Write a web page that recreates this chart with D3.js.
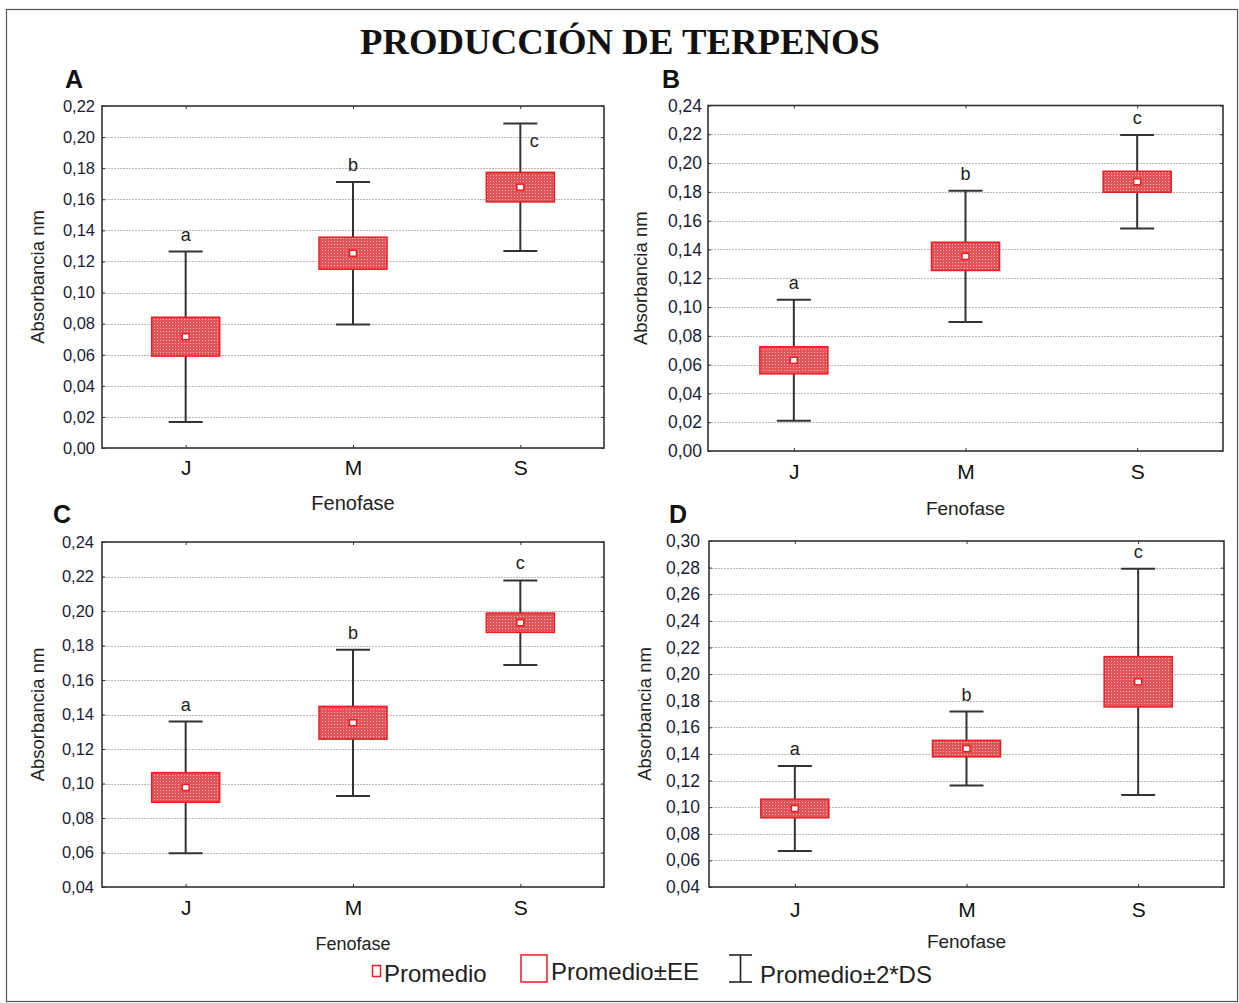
<!DOCTYPE html>
<html>
<head>
<meta charset="utf-8">
<script src="https://cdn.jsdelivr.net/npm/d3@7"></script>
<style>
  body { margin: 0; background: #fff; }
  svg { display: block; }
</style>
</head>
<body>
<svg id="chart" width="1239" height="1003"></svg>
<script>
const W = 1239, H = 1003

const fases = ["J", "M", "S"]
const letras = ["a", "b", "c"]

// panel A
const mediaA = [0.0716, 0.1253, 0.1678]
const eeA = [0.0125, 0.0103, 0.0095]
const ds2A = [0.0548, 0.0458, 0.0410]
const ticksA = [0, 0.22]

// panel B
const mediaB = [0.0630, 0.1352, 0.1870]
const eeB = [0.0094, 0.0098, 0.0073]
const ds2B = [0.0420, 0.0456, 0.0325]
const ticksB = [0, 0.24]

// panel C
const mediaC = [0.0977, 0.1352, 0.1932]
const eeC = [0.0086, 0.0095, 0.0056]
const ds2C = [0.0382, 0.0424, 0.0245]
const ticksC = [0.04, 0.24]

// panel D
const mediaD = [0.0990, 0.1440, 0.1942]
const eeD = [0.0070, 0.0062, 0.0189]
const ds2D = [0.0320, 0.0278, 0.0850]
const ticksD = [0.04, 0.30]

const ROJO = "#ec1c24"
const coma = v => d3.format(".2f")(v).replace(".", ",")

const svg = d3.select("#chart")

// light dotted texture laid over the solid box colour
const defs = svg.append("defs")
const pat = defs.append("pattern")
  .attr("id", "trama")
  .attr("width", 3).attr("height", 3)
  .attr("patternUnits", "userSpaceOnUse")
pat.append("rect").attr("width", 3).attr("height", 3).attr("fill", "#e25458")
pat.append("rect").attr("x", 1).attr("y", 1).attr("width", 1).attr("height", 1).attr("fill", "#f6b8b8")

// outer frame
svg.append("rect")
  .attr("x", 6.5).attr("y", 9.5)
  .attr("width", W - 8).attr("height", H - 11)
  .attr("fill", "none").attr("stroke", "#555").attr("stroke-width", 1.2)

svg.append("text")
  .attr("x", 620).attr("y", 54)
  .attr("text-anchor", "middle")
  .attr("font-family", "Liberation Serif, Times New Roman, serif")
  .attr("font-weight", "bold")
  .attr("font-size", 36)
  .attr("textLength", 520)
  .attr("lengthAdjust", "spacingAndGlyphs")
  .attr("fill", "#111")
  .text("PRODUCCIÓN DE TERPENOS")

const panels = [
  {letra: "A", media: mediaA, ee: eeA, ds2: ds2A, dom: ticksA,
   x0: 102, x1: 604, y0: 106, y1: 448, tickFs: 16.5, labRight: 95,
   lx: 74, ly: 88, ytx: 38, tickY: 474, fenY: 510, fenFs: 20},
  {letra: "B", media: mediaB, ee: eeB, ds2: ds2B, dom: ticksB,
   x0: 708, x1: 1223, y0: 105.5, y1: 451, tickFs: 17.5, labRight: 702,
   lx: 671, ly: 88, ytx: 641, tickY: 478, fenY: 515, fenFs: 19},
  {letra: "C", media: mediaC, ee: eeC, ds2: ds2C, dom: ticksC,
   x0: 102, x1: 604, y0: 542, y1: 887, tickFs: 16.5, labRight: 94,
   lx: 62, ly: 523, ytx: 38, tickY: 914, fenY: 950, fenFs: 18},
  {letra: "D", media: mediaD, ee: eeD, ds2: ds2D, dom: ticksD,
   x0: 709, x1: 1224, y0: 541, y1: 887, tickFs: 17.5, labRight: 700,
   lx: 678, ly: 523, ytx: 645, tickY: 916, fenY: 948, fenFs: 19}
]

panels.forEach(p => {
  const g = svg.append("g")

  const x = d3.scalePoint().domain(fases).range([p.x0, p.x1]).padding(0.5)
  const y = d3.scaleLinear().domain(p.dom).range([p.y1, p.y0])
  const ticks = d3.range(Math.round((p.dom[1] - p.dom[0]) / 0.02) + 1)
    .map(i => +(p.dom[0] + i * 0.02).toFixed(2))

  // gridlines
  g.append("g").selectAll("line")
    .data(ticks.slice(1, -1))
    .join("line")
    .attr("x1", p.x0).attr("x2", p.x1)
    .attr("y1", d => Math.round(y(d)) + 0.5).attr("y2", d => Math.round(y(d)) + 0.5)
    .attr("stroke", "#b8b8b8")
    .attr("stroke-width", 1)
    .attr("stroke-dasharray", "2,1")

  // y axis labels + inner ticks
  const ya = g.append("g").attr("transform", `translate(${p.x0},0)`)
    .call(d3.axisLeft(y).tickValues(ticks).tickFormat(coma).tickSize(-3).tickPadding(p.x0 - p.labRight))
  ya.select(".domain").remove()
  ya.selectAll("line").attr("stroke", "#333")
  ya.selectAll("text")
    .attr("font-family", "Liberation Sans, Arial, sans-serif")
    .attr("font-size", p.tickFs)
    .attr("fill", "#1c1c38")

  const yr = g.append("g").attr("transform", `translate(${p.x1},0)`)
    .call(d3.axisRight(y).tickValues(ticks).tickFormat("").tickSize(-3))
  yr.select(".domain").remove()
  yr.selectAll("line").attr("stroke", "#333")

  // x axis
  const xa = g.append("g").attr("transform", `translate(0,${p.y1})`)
    .call(d3.axisBottom(x).tickSize(-3).tickPadding(p.tickY - p.y1 - 14))
  xa.select(".domain").remove()
  xa.selectAll("line").attr("stroke", "#333")
  xa.selectAll("text")
    .attr("font-family", "Liberation Sans, Arial, sans-serif")
    .attr("font-size", 21)
    .attr("fill", "#111")
  const xt = g.append("g").attr("transform", `translate(0,${p.y0})`)
    .call(d3.axisTop(x).tickSize(-3).tickFormat(""))
  xt.select(".domain").remove()
  xt.selectAll("line").attr("stroke", "#333")

  // frame
  g.append("rect")
    .attr("x", p.x0).attr("y", p.y0)
    .attr("width", p.x1 - p.x0).attr("height", p.y1 - p.y0)
    .attr("fill", "none").attr("stroke", "#333").attr("stroke-width", 1.6)

  // whiskers (mean ± 2*DS)
  const wg = g.append("g").attr("stroke", "#333").attr("stroke-width", 2)
  fases.forEach((f, i) => {
    const cx = x(f)
    const lo = y(p.media[i] - p.ds2[i]), hi = y(p.media[i] + p.ds2[i])
    wg.append("line").attr("x1", cx).attr("x2", cx).attr("y1", lo).attr("y2", hi)
    wg.append("line").attr("x1", cx - 17).attr("x2", cx + 17).attr("y1", lo).attr("y2", lo)
    wg.append("line").attr("x1", cx - 17).attr("x2", cx + 17).attr("y1", hi).attr("y2", hi)
  })

  // boxes (mean ± EE)
  g.append("g").selectAll("rect")
    .data(fases)
    .join("rect")
    .attr("x", d => x(d) - 34)
    .attr("width", 68)
    .attr("y", (d, i) => y(p.media[i] + p.ee[i]))
    .attr("height", (d, i) => y(p.media[i] - p.ee[i]) - y(p.media[i] + p.ee[i]))
    .attr("fill", "url(#trama)")
    .attr("stroke", ROJO)
    .attr("stroke-width", 1.5)

  // mean markers
  g.append("g").selectAll("rect")
    .data(fases)
    .join("rect")
    .attr("x", d => x(d) - 3.5)
    .attr("y", (d, i) => y(p.media[i]) - 3)
    .attr("width", 7).attr("height", 6)
    .attr("fill", "#fff")
    .attr("stroke", ROJO)
    .attr("stroke-width", 1.5)

  // significance letters
  g.append("g").selectAll("text")
    .data(letras)
    .join("text")
    .each(function (d, i) {
      const top = y(p.media[i] + p.ds2[i])
      const t = d3.select(this)
      if (top - p.y0 < 24) {
        t.attr("x", x(fases[i]) + 14).attr("y", top + 24)
      } else {
        t.attr("x", x(fases[i])).attr("y", top - 11)
      }
    })
    .attr("text-anchor", "middle")
    .attr("font-family", "Liberation Sans, Arial, sans-serif")
    .attr("font-size", 18)
    .attr("fill", "#222")
    .text(d => d)

  // axis titles
  g.append("text")
    .attr("transform", `translate(${p.ytx + 6},${(p.y0 + p.y1) / 2}) rotate(-90)`)
    .attr("text-anchor", "middle")
    .attr("font-family", "Liberation Sans, Arial, sans-serif")
    .attr("font-size", 18.5)
    .attr("fill", "#222")
    .text("Absorbancia nm")

  g.append("text")
    .attr("x", (p.x0 + p.x1) / 2).attr("y", p.fenY)
    .attr("text-anchor", "middle")
    .attr("font-family", "Liberation Sans, Arial, sans-serif")
    .attr("font-size", p.fenFs)
    .attr("fill", "#222")
    .text("Fenofase")

  // panel letter
  g.append("text")
    .attr("x", p.lx).attr("y", p.ly)
    .attr("text-anchor", "middle")
    .attr("font-family", "Liberation Sans, Arial, sans-serif")
    .attr("font-weight", "bold")
    .attr("font-size", 25)
    .attr("fill", "#111")
    .text(p.letra)
})

// legend
const leg = svg.append("g")
  .attr("font-family", "Liberation Sans, Arial, sans-serif")
  .attr("font-size", 24)
  .attr("fill", "#222")

leg.append("rect").attr("x", 372.5).attr("y", 965.5).attr("width", 8).attr("height", 11)
  .attr("fill", "#fff").attr("stroke", ROJO).attr("stroke-width", 1.5)
leg.append("text").attr("x", 384).attr("y", 982).text("Promedio")

leg.append("rect").attr("x", 521).attr("y", 955).attr("width", 26).attr("height", 27)
  .attr("fill", "#fff").attr("stroke", ROJO).attr("stroke-width", 1.5)
leg.append("text").attr("x", 551).attr("y", 980).text("Promedio±EE")

const wl = leg.append("g").attr("stroke", "#222").attr("stroke-width", 1.6)
wl.append("line").attr("x1", 729).attr("x2", 752).attr("y1", 955).attr("y2", 955)
wl.append("line").attr("x1", 740.5).attr("x2", 740.5).attr("y1", 955).attr("y2", 982)
wl.append("line").attr("x1", 729).attr("x2", 752).attr("y1", 982).attr("y2", 982)
leg.append("text").attr("x", 760).attr("y", 983).text("Promedio±2*DS")
</script>
</body>
</html>
